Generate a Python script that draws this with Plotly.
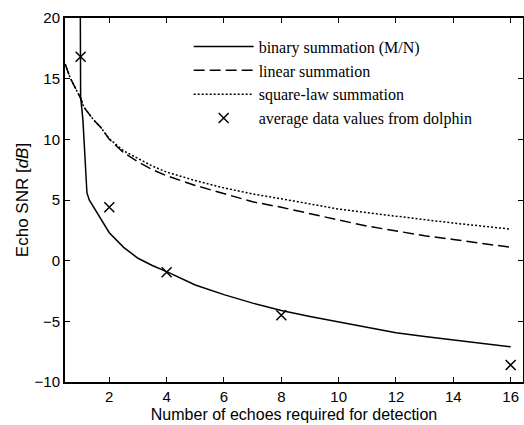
import plotly.graph_objects as go

# binary summation (M/N)
binary_x = [0.99, 1.0, 1.08, 1.16, 1.22, 1.3, 1.5, 1.75, 2.0, 2.5, 3.0, 3.5, 4.0, 5.0, 6.0, 7.0, 8.0, 9.0, 10.0, 11.0, 12.0, 13.0, 14.0, 15.0, 16.0]
binary_y = [20.0, 13.5, 11.6, 7.5, 5.6, 5.0, 4.2, 3.2, 2.3, 1.1, 0.2, -0.4, -0.9, -2.0, -2.8, -3.5, -4.1, -4.6, -5.05, -5.5, -5.95, -6.25, -6.55, -6.85, -7.1]

# linear summation
linear_x = [0.46, 0.52, 0.64, 0.8, 1.0, 1.1, 1.45, 1.7, 2.0, 2.5, 3.0, 3.5, 4.0, 5.0, 6.0, 7.0, 8.0, 9.0, 10.0, 11.0, 12.0, 13.0, 14.0, 15.0, 16.0]
linear_y = [16.2, 15.85, 15.05, 14.3, 13.4, 12.7, 11.6, 11.0, 10.0, 8.9, 8.15, 7.5, 7.0, 6.2, 5.5, 4.85, 4.4, 3.85, 3.35, 2.85, 2.45, 2.05, 1.75, 1.4, 1.1]

# square-law summation
square_x = [0.46, 0.52, 0.64, 0.8, 1.0, 1.1, 1.45, 1.7, 2.0, 2.5, 3.0, 3.5, 4.0, 5.0, 6.0, 7.0, 8.0, 9.0, 10.0, 11.0, 12.0, 13.0, 14.0, 15.0, 16.0]
square_y = [16.2, 15.85, 15.05, 14.3, 13.4, 12.7, 11.6, 11.0, 10.05, 9.05, 8.4, 7.8, 7.3, 6.6, 6.0, 5.5, 5.1, 4.65, 4.25, 3.95, 3.65, 3.35, 3.1, 2.85, 2.6]

# average data values from dolphin
dolphin_x = [1, 2, 4, 8, 16]
dolphin_y = [16.8, 4.4, -0.95, -4.5, -8.6]

x_ticks = [2, 4, 6, 8, 10, 12, 14, 16]
y_ticks = [-10, -5, 0, 5, 10, 15, 20]

fig = go.Figure()
fig.add_trace(go.Scatter(x=binary_x, y=binary_y, mode="lines", name="binary summation (M/N)",
                         line=dict(color="black", width=1.5)))
fig.add_trace(go.Scatter(x=linear_x, y=linear_y, mode="lines", name="linear summation",
                         line=dict(color="black", width=1.5, dash="11px,5px")))
fig.add_trace(go.Scatter(x=square_x, y=square_y, mode="lines", name="square-law summation",
                         line=dict(color="black", width=1.5, dash="2px,2px")))
fig.add_trace(go.Scatter(x=dolphin_x, y=dolphin_y, mode="markers", name="average data values from dolphin",
                         marker=dict(symbol="x-thin-open", size=10, color="black",
                                     line=dict(color="black", width=1.5))))

axis_common = dict(showgrid=False, zeroline=False, showline=True, linecolor="black", linewidth=2,
                   mirror="ticks", ticks="inside", ticklen=5, tickwidth=1.2, tickcolor="black",
                   automargin=False,
                   tickfont=dict(family="Liberation Sans, Arial", size=15, color="black"))

fig.update_layout(
    width=524, height=425,
    margin=dict(l=65, r=1, t=18, b=43),
    paper_bgcolor="white", plot_bgcolor="white",
    showlegend=True,
    legend=dict(x=0.27, y=0.968, xanchor="left", yanchor="top", bgcolor="rgba(0,0,0,0)",
                font=dict(family="Liberation Serif, Times New Roman", size=16, color="black"),
                itemwidth=60, tracegroupgap=0),
    xaxis=dict(range=[0.455, 16.43], tickvals=x_ticks,
               title=dict(text="Number of echoes required for detection", standoff=5,
                          font=dict(family="Liberation Sans, Arial", size=16, color="black")),
               **axis_common),
    yaxis=dict(range=[-10, 20], tickvals=y_ticks,
               title=dict(text="Echo SNR [<i>dB</i>]", standoff=2,
                          font=dict(family="Liberation Sans, Arial", size=17, color="black")),
               **axis_common),
)

fig.write_html("out.html", config={"displayModeBar": False},
               post_script="document.body.style.margin='0';document.body.style.overflow='hidden';")
